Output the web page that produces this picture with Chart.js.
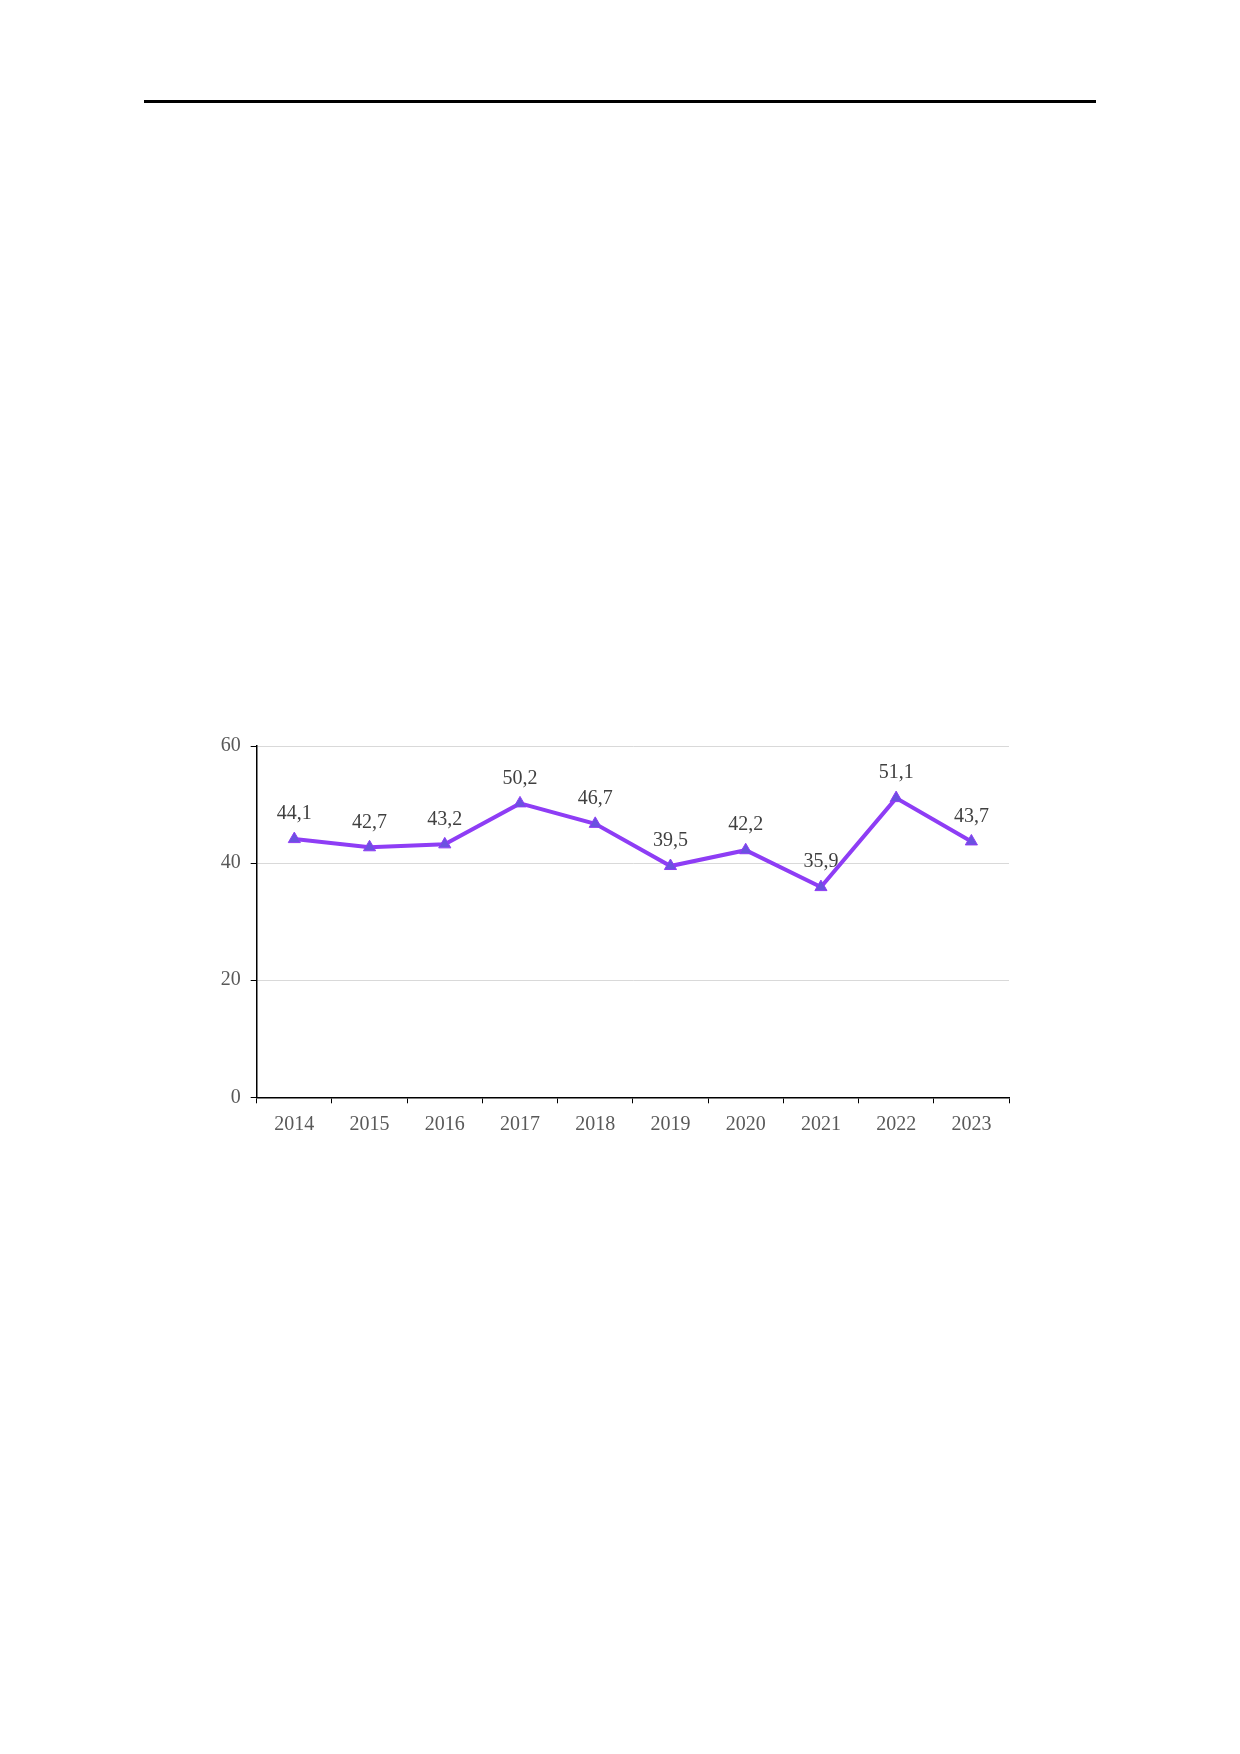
<!DOCTYPE html>
<html>
<head>
<meta charset="utf-8">
<script src="https://cdn.jsdelivr.net/npm/chart.js@4/dist/chart.umd.min.js"></script>
<style>
  body { margin: 0; background: #fff; width: 1240px; height: 1754px; position: relative; }
  .rule { position: absolute; left: 144px; top: 100px; width: 952px; height: 0; border-top: 3px solid #000; }
  .box { position: absolute; left: 200px; top: 720px; width: 830px; height: 420px; }
</style>
</head>
<body>
<div class="rule"></div>
<div class="box"><canvas id="myChart" width="830" height="420"></canvas></div>
<script>
// data
const years = ["2014", "2015", "2016", "2017", "2018", "2019", "2020", "2021", "2022", "2023"];
const values = [44.1, 42.7, 43.2, 50.2, 46.7, 39.5, 42.2, 35.9, 51.1, 43.7];
const yTicks = [0, 20, 40, 60];

const FONT = "'Liberation Serif', serif";

// labels above the points, with comma decimals
const valueLabels = {
  id: "valueLabels",
  afterDatasetsDraw(chart) {
    const ctx = chart.ctx;
    const meta = chart.getDatasetMeta(0);
    ctx.save();
    ctx.font = "20px " + FONT;
    ctx.fillStyle = "#404040";
    ctx.textAlign = "center";
    ctx.textBaseline = "middle";
    meta.data.forEach((pt, i) => {
      ctx.fillText(values[i].toFixed(1).replace(".", ","), pt.x, pt.y - 25);
    });
    ctx.restore();
  },
};

const config = {
  type: "line",
  data: {
    labels: years,
    datasets: [
      {
        data: values,
        borderColor: "#8e3df5",
        borderWidth: 4,
        pointStyle: "triangle",
        pointRadius: 7,
        pointBackgroundColor: "#6b52e0",
        pointBorderColor: "#8e3df5",
        pointBorderWidth: 1,
        tension: 0,
      },
    ],
  },
  options: {
    responsive: false,
    animation: false,
    layout: { padding: { top: 26, right: 21, left: 0, bottom: 0 } },
    plugins: { legend: { display: false }, tooltip: { enabled: false } },
    scales: {
      x: {
        offset: true,
        afterFit: (s) => { s.height = 42.7; },
        grid: {
          offset: true,
          drawOnChartArea: false,
          tickLength: 6,
          tickColor: "#000",
        },
        border: { color: "#000", width: 1.5 },
        ticks: {
          color: "#595959",
          padding: 9,
          font: { family: FONT, size: 20 },
        },
      },
      y: {
        min: 0,
        max: 60,
        afterFit: (s) => { s.width = 56.7; },
        afterBuildTicks: (s) => { s.ticks = yTicks.map((v) => ({ value: v })); },
        grid: { color: "#d9d9d9", tickLength: 6, tickColor: "#000" },
        border: { color: "#000", width: 1.5 },
        ticks: {
          color: "#595959",
          padding: 10,
          font: { family: FONT, size: 20 },
        },
      },
    },
  },
  plugins: [valueLabels],
};

const myChart = new Chart(document.getElementById("myChart"), config);
</script>
</body>
</html>
